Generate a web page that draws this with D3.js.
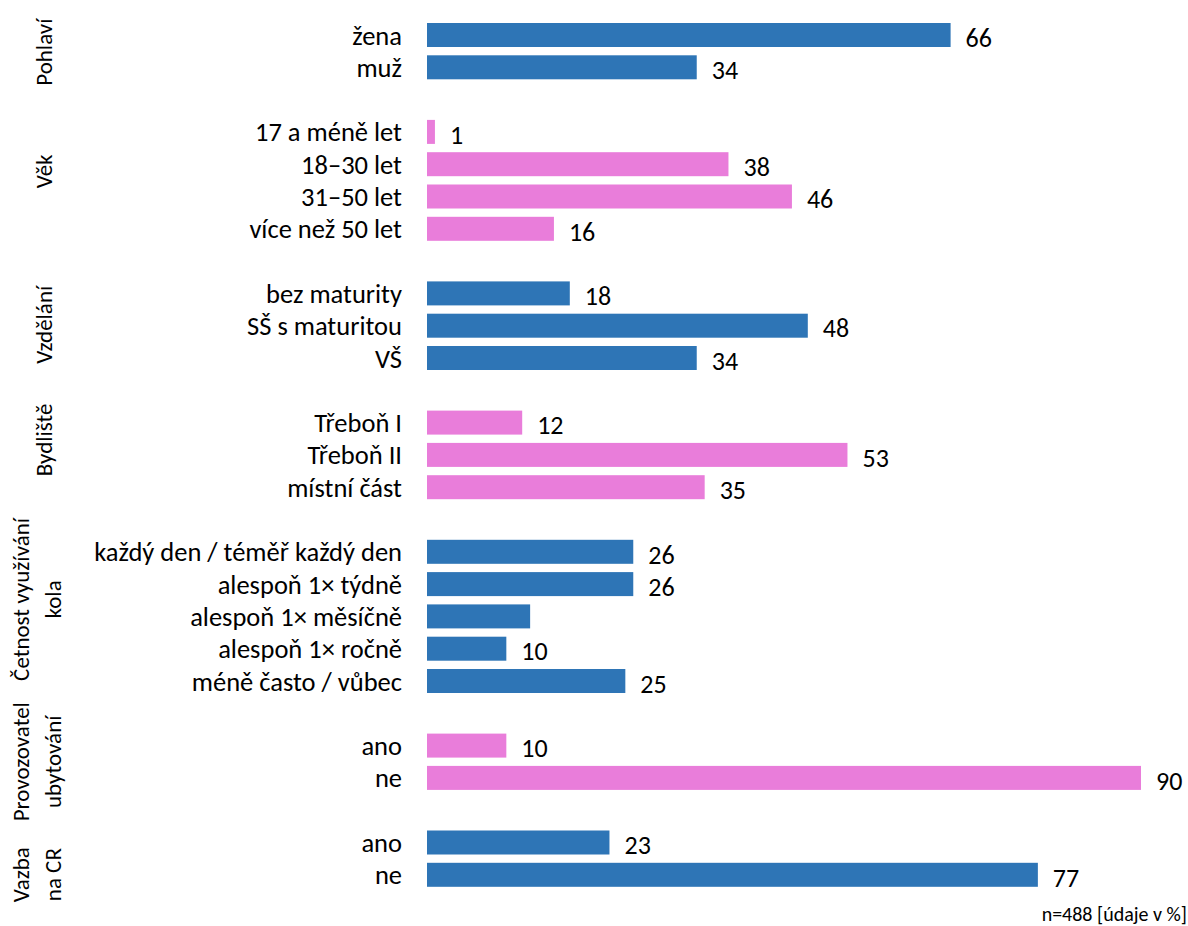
<!DOCTYPE html>
<html>
<head>
<meta charset="utf-8">
<script src="https://cdn.jsdelivr.net/npm/d3@7"></script>
<style>
body{margin:0;background:#fff;}
svg text{font-family:Carlito,Lato,"Open Sans",sans-serif;fill:#000;}
</style>
</head>
<body>
<svg id="chart" width="1188" height="926"></svg>
<script>
// skupiny (popisky vlevo, svisle)
var groupNames = [
	['Pohlaví'],
	['Věk'],
	['Vzdělání'],
	['Bydliště'],
	['Četnost využívání','kola'],
	['Provozovatel','ubytování'],
	['Vazba','na CR']
];
var categories = [
	['žena','muž'],
	['17 a méně let','18–30 let','31–50 let','více než 50 let'],
	['bez maturity','SŠ s maturitou','VŠ'],
	['Třeboň I','Třeboň II','místní část'],
	['každý den / téměř každý den','alespoň 1× týdně','alespoň 1× měsíčně','alespoň 1× ročně','méně často / vůbec'],
	['ano','ne'],
	['ano','ne']
];
var values = [
	[66,34],
	[1,38,46,16],
	[18,48,34],
	[12,53,35],
	[26,26,13,10,25],
	[10,90],
	[23,77]
];
// u teto polozky neni v originale hodnota vypsana
var hiddenLabels = ['alespoň 1× měsíčně'];
var groupColors = ['#2E75B6','#E97DDA'];
var note = 'n=488 [údaje v %]';
// posun svislych popisku proti stredu skupiny (jako v Excelu)
var groupLabelShift = [1,-9,-1,-15,-17,0,16];

// radky vcetne prazdnych mezi skupinami
var rows=[];
groupNames.forEach(function(g,gi){
	if(gi>0) rows.push({id:'gap'+gi, gap:true});
	categories[gi].forEach(function(c,ci){
		rows.push({id:gi+'-'+ci, group:gi, label:c, value:values[gi][ci]});
	});
});

var svg=d3.select('#chart');

var y=d3.scaleBand()
	.domain(rows.map(function(r){return r.id;}))
	.range([18.85, 18.85+rows.length*32.3])
	.paddingInner(0.257)
	.paddingOuter(0.1285);

var x=d3.scaleLinear().domain([0,90]).range([427,1141]);

var bars=rows.filter(function(r){return !r.gap;});

svg.selectAll('.bar')
	.data(bars)
	.enter()
	.append('rect')
	.attr('class','bar')
	.attr('x',x(0))
	.attr('y',function(d){return y(d.id);})
	.attr('width',function(d){return x(d.value)-x(0);})
	.attr('height',y.bandwidth())
	.attr('fill',function(d){return groupColors[d.group%2];});

svg.selectAll('.cat')
	.data(bars)
	.enter()
	.append('text')
	.attr('class','cat')
	.attr('x',x(0)-25)
	.attr('y',function(d){return y(d.id)+y.bandwidth()/2;})
	.attr('dy','0.36em')
	.attr('text-anchor','end')
	.style('font-size','26.5px')
	.text(function(d){return d.label;});

svg.selectAll('.val')
	.data(bars.filter(function(d){return hiddenLabels.indexOf(d.label)<0;}))
	.enter()
	.append('text')
	.attr('class','val')
	.attr('x',function(d){return x(d.value)+15;})
	.attr('y',function(d){return y(d.id)+y.bandwidth()/2;})
	.attr('dy','0.45em')
	.style('font-size','26px')
	.text(function(d){return d.value;});

// svisle popisky skupin
groupNames.forEach(function(g,gi){
	var ids=categories[gi].map(function(c,ci){return gi+'-'+ci;});
	var top=y(ids[0]), bottom=y(ids[ids.length-1])+y.bandwidth();
	var cy=(top+bottom)/2+groupLabelShift[gi];
	var lines=g.length;
	g.forEach(function(line,li){
		var cx = lines==1 ? 44 : (li==0 ? 21 : 53);
		svg.append('text')
			.attr('transform','translate('+cx+','+cy+') rotate(-90)')
			.attr('text-anchor','middle')
			.attr('dy','0.35em')
			.style('font-size','23px')
			.text(line);
	});
});

svg.append('text')
	.attr('x',1187)
	.attr('y',921)
	.attr('text-anchor','end')
	.style('font-size','20px')
	.text(note);
</script>
</body>
</html>
